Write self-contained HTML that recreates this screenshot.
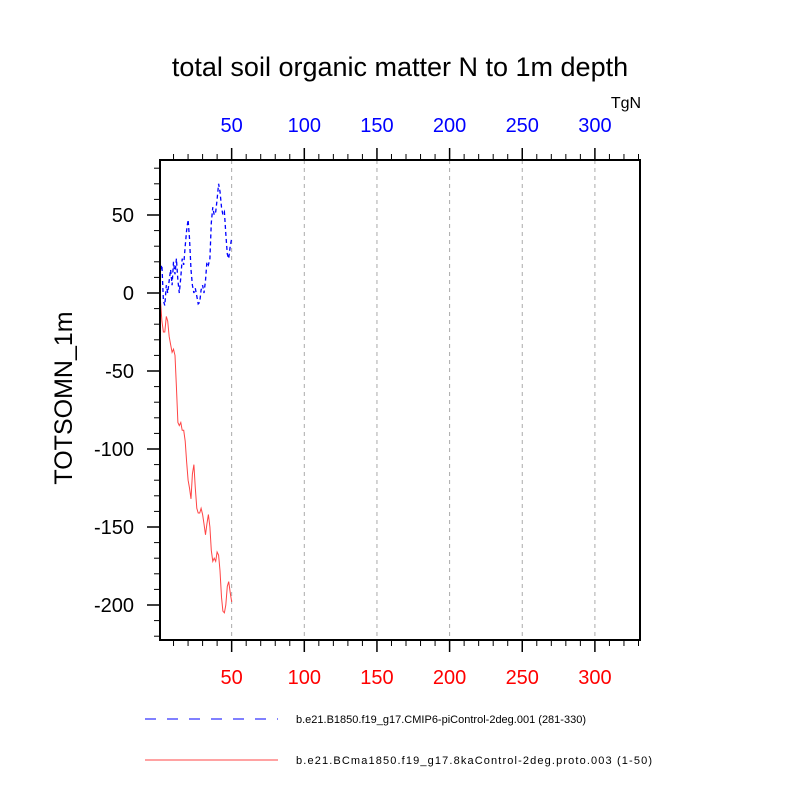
<!DOCTYPE html>
<html><head><meta charset="utf-8"><style>
body{margin:0;background:#fff}
svg{display:block;font-family:"Liberation Sans",sans-serif}
</style></head><body>
<svg id="chart" width="800" height="800" viewBox="0 0 800 800">
<text x="400" y="76" text-anchor="middle" font-size="27">total soil organic matter N to 1m depth</text>
<text x="626" y="108" text-anchor="middle" font-size="16">TgN</text>
<text transform="translate(72,398) rotate(-90)" text-anchor="middle" font-size="25">TOTSOMN_1m</text>
<g id="grid"></g><g id="axes"></g><g id="series"></g>
<rect x="160" y="160" width="480" height="480" fill="none" stroke="#000" stroke-width="2"/>
<g>
<line x1="145" y1="719" x2="278" y2="719" stroke="#00f" stroke-width="1" stroke-dasharray="11,11"/>
<text x="296" y="723" font-size="11" textLength="290">b.e21.B1850.f19_g17.CMIP6-piControl-2deg.001 (281-330)</text>
<line x1="145" y1="760" x2="278" y2="760" stroke="#f44" stroke-width="1"/>
<text x="296" y="764" font-size="11" textLength="356">b.e21.BCma1850.f19_g17.8kaControl-2deg.proto.003 (1-50)</text>
</g>
</svg>
<script>
const xTicks=[50,100,150,200,250,300];
const yTicks=[50,0,-50,-100,-150,-200];
const blueValues=[15,18,-5,-8,5,0,8,15,5,20,12,22,8,0,10,22,18,30,40,47,35,15,5,0,3,-2,-7,-6,2,5,0,8,20,18,22,45,55,50,52,60,70,65,55,50,52,38,25,22,30,35];
const redValues=[-5,-18,-25,-25,-15,-18,-28,-33,-38,-36,-40,-60,-83,-85,-83,-88,-88,-95,-108,-120,-125,-132,-116,-110,-125,-138,-141,-141,-138,-142,-148,-155,-148,-142,-150,-165,-172,-170,-172,-166,-168,-178,-195,-204,-205,-200,-188,-185,-192,-198];
const NS="http://www.w3.org/2000/svg";
const X=v=>159+(v)*1.453;
const Y=v=>293-v*1.56;
function mk(tag,attrs,parent,text){const e=document.createElementNS(NS,tag);for(const k in attrs)e.setAttribute(k,attrs[k]);if(text!==undefined)e.textContent=text;parent.appendChild(e);return e;}
const grid=document.getElementById('grid'),axes=document.getElementById('axes'),series=document.getElementById('series');
for(let v=10;v<=330;v+=10){const x=X(v);if(x>640)break;const major=v%50===0;
 let t=mk('line',{x1:x,y1:640,x2:x,y2:640+(major?12:6),stroke:'#000','stroke-width':major?1.5:1},axes);
 
 t=mk('line',{x1:x,y1:160,x2:x,y2:160-(major?12:6),stroke:'#000','stroke-width':major?1.5:1},axes);
 }
xTicks.forEach(v=>{const x=X(v);
 let g=mk('line',{x1:x,y1:160,x2:x,y2:640,stroke:'#aaa','stroke-dasharray':'4,4'},grid);
 
 let t=mk('text',{x:x,y:684,'text-anchor':'middle','font-size':20,fill:'#f00'},axes,String(v));
 
 t=mk('text',{x:x,y:132,'text-anchor':'middle','font-size':20,fill:'#00f'},axes,String(v));
 });
for(let v=80;v>=-220;v-=10){const y=Y(v);const major=v%50===0;
 let t=mk('line',{x1:160,y1:y,x2:160-(major?13:6),y2:y,stroke:'#000','stroke-width':major?1.5:1},axes);
 }
yTicks.forEach(v=>{let t=mk('text',{x:134,y:Y(v)+7,'text-anchor':'end','font-size':20},axes,String(v));
 });
function pts(a){return a.map((v,i)=>X(i+1).toFixed(1)+','+Y(v).toFixed(1)).join(' ');}
let b=mk('polyline',{points:pts(blueValues),fill:'none',stroke:'#00f','stroke-width':1.3,'stroke-dasharray':'4,3'},series);

let r=mk('polyline',{points:pts(redValues),fill:'none',stroke:'#f44','stroke-width':1},series);

</script>
</body></html>
